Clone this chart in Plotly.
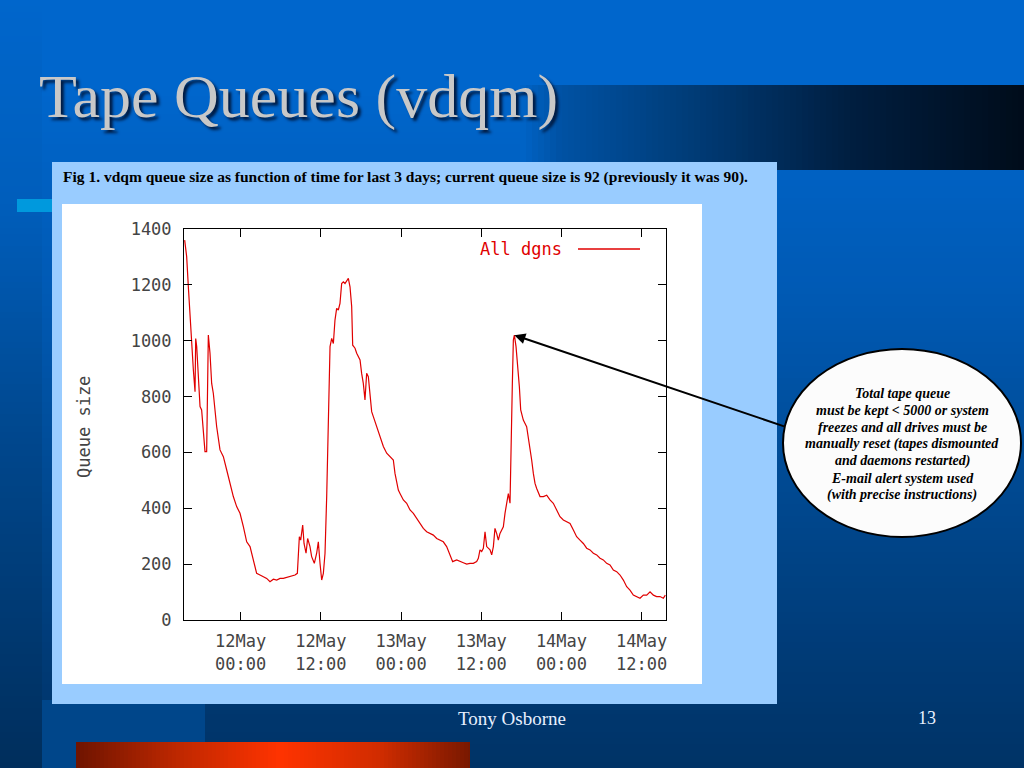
import plotly.graph_objects as go
import pandas as pd

# ---------------- data ----------------
series_name = "All dgns"
base_time = pd.Timestamp("2004-05-12 00:00")
hours_from_12may = [
    -8.38, -8.08, -7.83, -7.58, -7.33, -7.08, -6.83, -6.73, -6.58, -6.33,
    -6.08, -5.84, -5.59, -5.34, -5.09, -4.84, -4.59, -4.34, -4.09, -3.84,
    -3.59, -3.09, -2.59, -2.09, -1.60, -1.10, -0.60, -0.10, 0.40, 0.90,
    1.40, 1.90, 2.39, 2.89, 3.39, 3.89, 4.39, 4.89, 5.39, 5.89,
    6.38, 6.88, 7.38, 8.13, 8.48, 8.78, 8.98, 9.28, 9.48, 9.78,
    10.02, 10.37, 10.62, 11.02, 11.37, 11.62, 11.87, 12.12, 12.37, 12.62,
    12.87, 13.12, 13.37, 13.62, 13.87, 14.11, 14.36, 14.61, 14.86, 15.11,
    15.36, 15.61, 15.86, 16.11, 16.36, 16.61, 16.76, 17.11, 17.36, 17.86,
    18.10, 18.35, 18.60, 18.85, 19.10, 19.35, 19.60, 19.85, 20.35, 20.85,
    21.35, 21.85, 22.34, 22.84, 23.09, 23.34, 23.59, 23.84, 24.34, 24.84,
    25.34, 25.84, 26.33, 26.83, 27.33, 27.83, 28.33, 28.83, 29.33, 29.83,
    30.32, 30.82, 31.32, 31.72, 32.32, 32.82, 33.32, 33.82, 34.31, 34.81,
    35.31, 35.56, 35.81, 36.06, 36.31, 36.56, 36.81, 37.31, 37.56, 37.81,
    38.05, 38.30, 38.55, 38.80, 39.05, 39.30, 39.55, 39.80, 40.05, 40.30,
    40.45, 40.65, 40.80, 40.95, 41.20, 41.40, 41.70, 41.90, 42.29, 42.79,
    43.04, 43.29, 43.54, 43.79, 44.04, 44.29, 44.79, 45.29, 45.79, 46.28,
    46.78, 47.28, 47.78, 48.28, 48.78, 49.28, 49.78, 50.27, 50.77, 51.27,
    51.77, 52.27, 52.77, 53.27, 53.77, 54.26, 54.76, 55.26, 55.76, 56.26,
    56.76, 57.26, 57.76, 58.25, 58.75, 59.25, 59.75, 60.25, 60.75, 61.25,
    61.75, 62.24, 62.74, 63.24, 63.54,
]
queue_size = [
    1360, 1301, 1193, 1086, 1014, 895, 817, 1008, 979, 883,
    764, 752, 680, 603, 603, 1020, 955, 847, 811, 752,
    692, 609, 585, 537, 489, 442, 406, 382, 334, 280,
    263, 215, 167, 161, 155, 149, 137, 146, 143, 149,
    149, 153, 155, 161, 167, 298, 286, 340, 274, 239,
    292, 263, 227, 203, 239, 280, 203, 143, 167, 239,
    442, 716, 979, 1008, 990, 1074, 1116, 1110, 1134, 1205,
    1211, 1205, 1217, 1223, 1193, 1122, 984, 973, 955, 931,
    883, 847, 788, 883, 871, 800, 746, 728, 692, 656,
    621, 597, 585, 573, 525, 489, 465, 453, 430, 418,
    394, 382, 364, 346, 328, 316, 310, 304, 292, 286,
    280, 263, 233, 209, 215, 209, 205, 200, 203, 203,
    209, 221, 251, 245, 257, 316, 263, 251, 233, 263,
    328, 310, 286, 310, 322, 334, 382, 418, 453, 418,
    644, 847, 1002, 1020, 979, 931, 835, 752, 716, 692,
    656, 621, 573, 525, 489, 471, 442, 442, 447, 430,
    418, 394, 370, 358, 352, 346, 322, 298, 286, 274,
    257, 251, 239, 233, 221, 215, 203, 197, 179, 173,
    161, 143, 119, 107, 89, 84, 78, 89, 89, 101,
    89, 84, 84, 78, 89,
]
y_tick_values = [0, 200, 400, 600, 800, 1000, 1200, 1400]
x_range_hours = [-8.48, 63.64]

caption = ("Fig 1. vdqm queue size as function of time for last 3 days; "
           "current queue size is 92 (previously it was 90).")
note_lines = [
    "Total tape queue",
    "must be kept &lt; 5000 or system",
    "freezes and all drives must be",
    "manually reset (tapes dismounted",
    "and daemons restarted)",
    "E-mail alert system used",
    "(with precise instructions)",
]

# ---------------- helpers ----------------
W, H = 1024, 768
def px(x):
    return x / W
def py(y):
    return 1 - y / H

def hex2rgb(c):
    c = c.lstrip("#")
    return tuple(int(c[i:i + 2], 16) for i in (0, 2, 4))

def interp(stops, v):
    for (p0, c0), (p1, c1) in zip(stops[:-1], stops[1:]):
        if p0 <= v <= p1:
            t = 0 if p1 == p0 else (v - p0) / (p1 - p0)
            a, b = hex2rgb(c0), hex2rgb(c1)
            r = [round(a[i] + (b[i] - a[i]) * t) for i in range(3)]
            return "rgb(%d,%d,%d)" % tuple(r)
    return stops[-1][1] if v > stops[-1][0] else stops[0][1]

shapes = []
def rect(x0, y0, x1, y1, color, layer="below"):
    shapes.append(dict(type="rect", xref="paper", yref="paper",
                       x0=px(x0), x1=px(x1), y0=py(y1), y1=py(y0),
                       fillcolor=color, line=dict(width=0), layer=layer))

def vgrad(x0, y0, x1, y1, stops, step=6):
    y = y0
    while y < y1:
        rect(x0, y, x1, min(y + step + 1, y1), interp(stops, y + step / 2))
        y += step

def hgrad(x0, y0, x1, y1, stops, step=6):
    x = x0
    while x < x1:
        rect(x, y0, min(x + step + 1, x1), y1, interp(stops, x + step / 2))
        x += step

# slide background
vgrad(0, 0, 1024, 768, [(0, "#0066CC"), (90, "#0066CC"), (300, "#0059B3"),
                        (500, "#00488F"), (650, "#003B77"), (768, "#003366")])
vgrad(0, 0, 42, 768, [(0, "#0066CC"), (200, "#005EBC"), (450, "#00468B"),
                      (768, "#002E5C")])
rect(42, 700, 205, 768, "#00468A")
# dark title band
hgrad(520, 85, 1024, 170, [(520, "#0064C8"), (560, "#0052A4"), (700, "#003A74"),
                           (850, "#001E40"), (1024, "#000C1A")])
# small cyan marker
rect(17, 199, 52, 212, "#0099DD")
# bottom red bar
hgrad(76, 742, 470, 768, [(76, "#6E1400"), (180, "#C02800"), (280, "#FF3300"),
                          (380, "#D02C00"), (470, "#781800")], step=4)
# light blue panel and white plot image
rect(52, 162, 777, 704, "#99CCFF")
rect(62, 204, 702, 684, "#FFFFFF")

# legend sample line
shapes.append(dict(type="line", xref="paper", yref="paper",
                   x0=px(578), x1=px(640), y0=py(249), y1=py(249),
                   line=dict(color="#E00000", width=1.3), layer="above"))
# callout ellipse
shapes.append(dict(type="circle", xref="paper", yref="paper",
                   x0=px(783), x1=px(1021), y0=py(537), y1=py(349),
                   fillcolor="#FCFCFC", line=dict(color="#000000", width=2),
                   layer="above"))

# ---------------- figure ----------------
times = base_time + pd.to_timedelta(hours_from_12may, unit="h")
x_range = [base_time + pd.to_timedelta(h, unit="h") for h in x_range_hours]

mono = "DejaVu Sans Mono"
serif = "Liberation Serif"
tick_color = "#444444"

fig = go.Figure()
fig.add_trace(go.Scatter(x=times, y=queue_size, mode="lines", name=series_name,
                         line=dict(color="#E00000", width=1.2)))

late = [i for i, h in enumerate(hours_from_12may) if h > 30]
peak_idx = max(late, key=lambda i: queue_size[i])

annotations = [
    dict(text="Tape Queues (vdqm)", x=px(37), y=py(96), xanchor="left", yanchor="middle",
         font=dict(family=serif, size=62, color="#C8C8C8",
                   shadow="3px 3px 3px #001a40")),
    dict(text="<b>" + caption + "</b>", x=px(61), y=py(177), xanchor="left",
         yanchor="middle", font=dict(family=serif, size=15.5, color="#000000")),
    dict(text="Queue size", x=px(84), y=py(427), textangle=-90, xanchor="center",
         yanchor="middle", font=dict(family=mono, size=17, color=tick_color)),
    dict(text=series_name, x=px(564), y=py(249), xanchor="right", yanchor="middle",
         font=dict(family=mono, size=17, color="#E00000")),
    dict(text="Tony Osborne", x=px(512), y=py(718), xanchor="center", yanchor="middle",
         font=dict(family=serif, size=19, color="#E8F0FF")),
    dict(text="13", x=px(927), y=py(718), xanchor="center", yanchor="middle",
         font=dict(family=serif, size=18, color="#E8F0FF")),
    dict(text="", x=times[peak_idx], y=queue_size[peak_idx], xref="x", yref="y",
         ax=272, ay=92, showarrow=True, arrowhead=2, arrowsize=1.1, arrowwidth=2,
         arrowcolor="#000000", standoff=0),
]
for i, line in enumerate(note_lines):
    annotations.append(dict(text="<b><i>" + line + "</i></b>", x=px(902), y=py(393 + 17 * i),
                            xanchor="center", yanchor="middle",
                            font=dict(family=serif, size=14, color="#000000")))
for a in annotations:
    a.setdefault("xref", "paper")
    a.setdefault("yref", "paper")
    a.setdefault("showarrow", False)

axis_common = dict(showline=True, linecolor="#000000", linewidth=1, mirror="allticks",
                   ticks="inside", ticklen=8, tickcolor="#000000", tickwidth=1,
                   showgrid=False, zeroline=False, automargin=False,
                   tickfont=dict(family=mono, size=17, color=tick_color))

fig.update_layout(
    width=W, height=H, margin=dict(l=0, r=0, t=0, b=0, pad=0, autoexpand=False),
    paper_bgcolor="#0066CC", plot_bgcolor="rgba(0,0,0,0)",
    showlegend=False,
    xaxis=dict(domain=[px(184), px(666)], type="date", range=x_range,
               tick0=base_time, dtick=12 * 3600 * 1000, tickformat="%d%b<br>%H:%M",
               ticklabelstandoff=6, **axis_common),
    yaxis=dict(domain=[py(620), py(229)], range=[0, 1400], tickvals=y_tick_values,
               ticklabelstandoff=8, **axis_common),
    shapes=shapes,
    annotations=annotations,
)

fig.write_html("out.html", config={"displayModeBar": False},
               post_script="document.body.style.margin='0px';")
